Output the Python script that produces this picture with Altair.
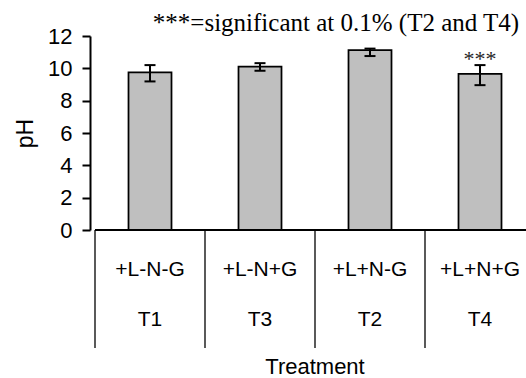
import altair as alt
import pandas as pd

# ---- data ----
combos = ["+L-N-G", "+L-N+G", "+L+N-G", "+L+N+G"]
treatments = ["T1", "T3", "T2", "T4"]
ph = [9.75, 10.1, 11.12, 9.66]
err_up = [0.45, 0.22, 0.10, 0.54]
err_down = [0.56, 0.25, 0.36, 0.70]
sig = ["", "", "", "***"]
y_ticks = [0, 2, 4, 6, 8, 10, 12]
annotation = "***=significant at 0.1% (T2 and T4)"
x_title = "Treatment"
y_title = "pH"

n = len(combos)
df = pd.DataFrame({
    "combo": combos,
    "treat": treatments,
    "ph": ph,
    "up": err_up,
    "down": err_down,
    "sig": sig,
})
df["pos"] = [i + 0.5 for i in range(n)]
df["hi"] = df["ph"] + df["up"]
df["lo"] = df["ph"] - df["down"]

bounds = pd.DataFrame({"b": list(range(n + 1))})
axis_line = pd.DataFrame({"x0": [0], "x1": [n], "y": [0]})
title_df = pd.DataFrame({"t": [x_title], "c": [n / 2]})

W, H = 436, 194
SANS = "Liberation Sans"
SERIF = "Liberation Serif"

xs = alt.Scale(domain=[0, n], range=[0, 450])
ys = alt.Scale(domain=[0, 12], nice=False, zero=True)

yaxis = alt.Axis(values=y_ticks, tickCount=7, grid=False, tickSize=8, tickWidth=2,
                 domainWidth=2, domainColor="black", tickColor="black",
                 labelFont=SANS, labelFontSize=22, labelColor="black",
                 labelPadding=10, labelOverlap=False, titleFont=SANS, titleFontSize=23,
                 titleFontWeight="normal", titleColor="black", titlePadding=10)


def Y(field):
    return alt.Y(field, scale=ys, title=y_title, axis=yaxis)


X = alt.X("pos:Q", scale=xs, axis=None)

base = alt.Chart(df)

bars = base.mark_bar(size=43, color="#BFBFBF", stroke="black", strokeWidth=1.75).encode(
    x=X, y=Y("ph:Q"),
)
err_rule = base.mark_rule(color="black", strokeWidth=2).encode(
    x=X, y=Y("lo:Q"), y2="hi:Q"
)
cap_hi = base.mark_rule(color="black", strokeWidth=2, xOffset=-5.5, x2Offset=5.5).encode(
    x=X, x2="pos:Q", y=Y("hi:Q")
)
cap_lo = base.mark_rule(color="black", strokeWidth=2, xOffset=-5.5, x2Offset=5.5).encode(
    x=X, x2="pos:Q", y=Y("lo:Q")
)
stars = base.mark_text(font=SERIF, fontSize=22, color="#262626", baseline="alphabetic", dy=1).encode(
    x=X, y=Y("hi:Q"), text="sig:N"
)
xaxis = alt.Chart(axis_line).mark_rule(color="black", strokeWidth=2).encode(
    x=alt.X("x0:Q", scale=xs, axis=None), x2="x1:Q", y=Y("y:Q")
)
seps = alt.Chart(bounds).mark_rule(color="black", strokeWidth=1.3).encode(
    x=alt.X("b:Q", scale=xs, axis=None), y=alt.value(H), y2=alt.value(H + 118)
)
lab1 = base.mark_text(font=SANS, fontSize=21, color="black", baseline="middle", dy=40).encode(
    x=X, y=alt.datum(0), text="combo:N"
)
lab2 = base.mark_text(font=SANS, fontSize=21, color="black", baseline="middle", dy=90).encode(
    x=X, y=alt.datum(0), text="treat:N"
)
xt = alt.Chart(title_df).mark_text(font=SANS, fontSize=22, color="black", baseline="middle", dy=137).encode(
    x=alt.X("c:Q", scale=xs, axis=None), y=alt.datum(0), text="t:N"
)

chart = alt.layer(bars, err_rule, cap_hi, cap_lo, stars, xaxis, seps, lab1, lab2, xt).properties(
    width=W,
    height=H,
    autosize=alt.AutoSizeParams(type="none"),
    padding={"left": 90, "top": 36, "right": 0, "bottom": 378 - 36 - H},
    background="white",
    title=alt.TitleParams(text=annotation, font=SERIF, fontSize=25, fontWeight="normal",
                          color="black", anchor="middle", dx=28, dy=35, frame="group",
                          baseline="alphabetic", offset=4),
).configure_view(stroke=None)

chart.save("out.html", embed_options={"renderer": "svg", "actions": False})
